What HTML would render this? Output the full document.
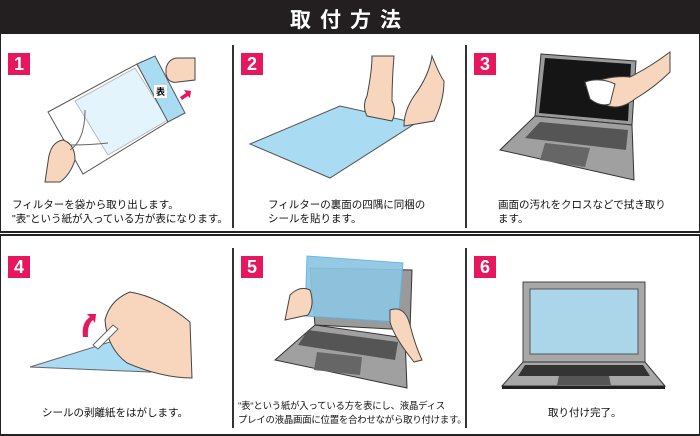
<!DOCTYPE html>
<html><head><meta charset="utf-8"><style>
body{margin:0;width:700px;height:435px;overflow:hidden;background:#fff;font-family:"Liberation Sans","Noto Sans CJK JP",sans-serif;}
.a{position:absolute}
.num{position:absolute;width:22px;height:22px;background:#e6175c;color:#fff;font-weight:bold;font-size:18px;line-height:22px;text-align:center}
.t{position:absolute;font-size:10.5px;line-height:14px;color:#111;white-space:nowrap}
.v{position:absolute;width:2px;background:#333}
</style></head><body>
<div class="a" style="left:0;top:0;width:700px;height:34px;background:#231f20;"></div>
<div class="a" style="left:0;top:4px;width:700px;text-align:center;color:#fff;font-size:21px;font-weight:bold;letter-spacing:9px;">取付方法</div>
<div class="a" style="left:0;top:34px;width:698px;height:197px;border:1px solid #222;border-top:none;border-bottom:2px solid #222"></div>
<div class="a" style="left:0;top:234px;width:698px;height:198px;border:1px solid #222;border-top:2px solid #222;border-bottom:2px solid #222"></div>
<div class="v" style="left:232px;top:45px;height:183px"></div>
<div class="v" style="left:465px;top:45px;height:183px"></div>
<div class="v" style="left:232px;top:248px;height:180px"></div>
<div class="v" style="left:465px;top:248px;height:180px"></div>
<div class="num" style="left:8px;top:53px">1</div>
<div class="num" style="left:241px;top:53px">2</div>
<div class="num" style="left:474px;top:53px">3</div>
<div class="num" style="left:8px;top:256px">4</div>
<div class="num" style="left:241px;top:256px">5</div>
<div class="num" style="left:474px;top:256px">6</div>
<svg class="a" style="left:0;top:0" width="700" height="435">
<!-- panel1 -->
<polygon points="48,112 137,64 168,122 83,174" fill="#fff" stroke="#555"/>
<polygon points="75,101 135,68 168,120 108,155" fill="#e3f4fc" stroke="#bbb"/>
<polygon points="137,64 155,56 185,113 168,122" fill="#a9dcf3" stroke="#555"/>
<rect x="154" y="85" width="13" height="13" fill="#fff"/>
<text x="156" y="95" font-size="9" font-weight="bold">表</text>
<path d="M166 68 q3 -10 12 -10 L195 58 L195 80 L178 82 q-10 2 -12 -8 z" fill="#f7d6bd" stroke="#444"/>
<path d="M180 97 l6 -4 l-2 -3 l7 1 l-1 7 l-2 -2 l-6 4 z" fill="#e6175c"/>
<path d="M45 182 l3 -20 q2 -20 15 -22 q12 4 12 20 q-5 15 -15 22 z" fill="#f7d6bd" stroke="#444"/>
<path d="M70 150 q15 -10 15 -40 M70 145 q20 0 38 -2" stroke="#666" fill="none"/>
<!-- panel2 -->
<polygon points="250,144 340,106 416,123 330,178" fill="#a9dcf3" stroke="#555"/>
<path d="M372 56 l22 0 q-2 25 -2 45 q5 10 0 20 l-25 -5 q-5 -10 0 -20 q5 -25 5 -40 z" fill="#f7d6bd" stroke="#444"/>
<path d="M432 56 q8 20 12 25 q0 20 -10 40 l-30 5 q0 -15 10 -30 q15 -20 18 -40 z" fill="#f7d6bd" stroke="#444"/>
<!-- panel3 -->
<polygon points="541,54 636,61 632,125 535,116" fill="#9a9a9a" stroke="#333"/>
<polygon points="545,58 631,64 628,121 539,113" fill="#151515"/>
<polygon points="535,116 632,125 634,180 500,150" fill="#a0a0a0" stroke="#333"/>
<polygon points="540,122 628,130 626,150 525,138" fill="#555"/>
<polygon points="545,143 590,148 585,167 540,160" fill="#666"/>
<path d="M585 85 q25 -10 45 -8 q20 -10 40 -25 l0 20 q-15 15 -35 27 q-20 15 -35 2 z" fill="#f7d6bd" stroke="#444"/>
<path d="M585 82 q15 -5 30 2 l-5 20 q-10 3 -20 -5 z" fill="#fff" stroke="#444"/>
<!-- panel4 -->
<polygon points="30,367 110,342 150,372" fill="#a9dcf3" stroke="#666"/>
<path d="M105 320 q5 -20 25 -28 q30 5 60 30 l2 56 q-30 0 -65 -15 q-20 -15 -22 -43 z" fill="#f7d6bd" stroke="#444"/>
<path d="M93 345 l20 -20 l5 4 l-20 20 z" fill="#fff" stroke="#666"/>
<path d="M83 337 q-2 -14 7 -20 l-3 -3 l9 0 l-1 9 l-2 -3 q-6 5 -5 17 z" fill="#e6175c"/>
<!-- panel5 -->
<polygon points="310,268 412,270 410,330 315,325" fill="#9a9a9a" stroke="#333"/>
<polygon points="315,325 405,338 407,388 275,360" fill="#a0a0a0" stroke="#333"/>
<polygon points="308,330 398,342 395,360 298,345" fill="#555"/>
<polygon points="317,352 362,357 360,375 314,370" fill="#666"/>
<polygon points="307,256 403,263 398,322 305,316" fill="#8ec5e2" stroke="#5ab4e4" opacity=".92"/>
<path d="M285 320 l5 -25 q10 -10 20 -5 q5 15 -2 25 z" fill="#f7d6bd" stroke="#444"/>
<path d="M390 310 q15 -5 20 15 q5 20 12 35 l-8 2 q-20 -25 -24 -40 z" fill="#f7d6bd" stroke="#444"/>
<!-- panel6 -->
<rect x="523" y="282" width="122" height="80" fill="#a8a8a8" stroke="#444"/>
<rect x="530" y="289" width="108" height="65" fill="#abd6ea" stroke="#555"/>
<polygon points="523,362 645,362 665,386 502,386" fill="#a8a8a8" stroke="#333"/>
<polygon points="525,365 643,365 650,376 518,376" fill="#333"/>
<polygon points="559,376 609,376 611,385 557,385" fill="#555"/>
<rect x="502" y="386" width="163" height="3" fill="#222"/>
</svg>
<div class="t" style="left:12px;top:198px">フィルターを袋から取り出します。<br>"表"という紙が入っている方が表になります。</div>
<div class="t" style="left:268px;top:198px">フィルターの裏面の四隅に同梱の<br>シールを貼ります。</div>
<div class="t" style="left:498px;top:198px">画面の汚れをクロスなどで拭き取り<br>ます。</div>
<div class="t" style="left:42px;top:406px">シールの剥離紙をはがします。</div>
<div class="t" style="left:238px;top:399px;font-size:9.4px;letter-spacing:-0.2px">"表"という紙が入っている方を表にし、液晶ディス<br>プレイの液晶画面に位置を合わせながら取り付けます。</div>
<div class="t" style="left:548px;top:406px">取り付け完了。</div>
</body></html>
